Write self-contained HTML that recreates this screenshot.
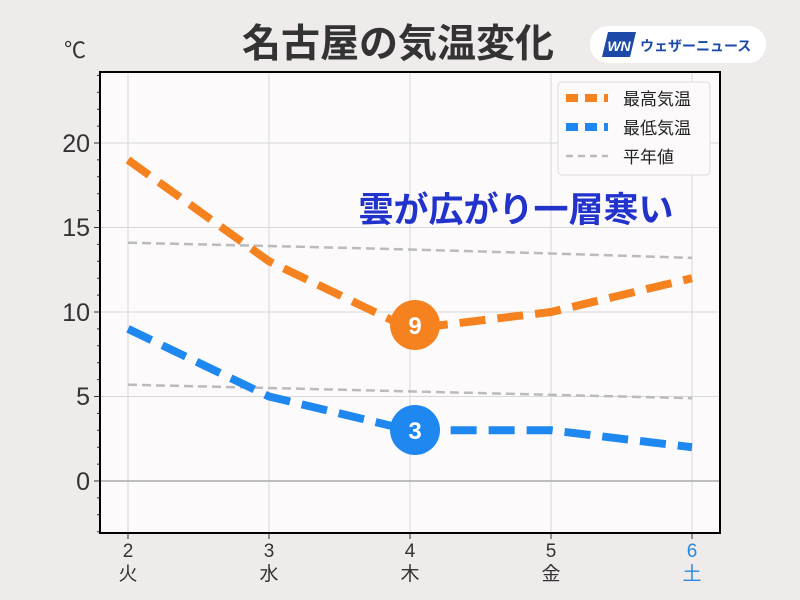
<!DOCTYPE html><html><head><meta charset="utf-8"><style>body{margin:0;background:#eeebea;}svg{display:block}text{font-family:"Liberation Sans","Noto Sans CJK JP",sans-serif}</style></head><body>
<svg width="800" height="600" viewBox="0 0 800 600">
<rect width="800" height="600" fill="#eeebea"/>
<text x="398" y="57" text-anchor="middle" font-size="39" font-weight="bold" fill="#333">名古屋の気温変化</text>
<rect x="590" y="26" width="176" height="37" rx="18" fill="#fff"/>
<polygon points="608,32 636,32 630,57 602,57" fill="#1d4aa8"/>
<text x="619" y="51" text-anchor="middle" font-size="14" font-weight="bold" font-style="italic" fill="#fff">WN</text>
<text x="640" y="51" font-size="14" font-weight="bold" fill="#1d4aa8">ウェザーニュース</text>
<text x="64" y="58" font-size="22" fill="#333">℃</text>
<rect x="100" y="72" width="620" height="461" fill="#fcfafa"/>
<g stroke="#d8d8d8" stroke-width="1">
<line x1="128" y1="72" x2="128" y2="533"/><line x1="269" y1="72" x2="269" y2="533"/><line x1="410" y1="72" x2="410" y2="533"/><line x1="551" y1="72" x2="551" y2="533"/><line x1="692" y1="72" x2="692" y2="533"/>
<line x1="100" y1="143" x2="720" y2="143"/><line x1="100" y1="227.5" x2="720" y2="227.5"/><line x1="100" y1="312" x2="720" y2="312"/><line x1="100" y1="396.5" x2="720" y2="396.5"/>
</g>
<line x1="100" y1="481" x2="720" y2="481" stroke="#aaa" stroke-width="1.5"/>
<g stroke="#333" stroke-width="1">
<line x1="94" y1="143" x2="100" y2="143"/><line x1="94" y1="227.5" x2="100" y2="227.5"/><line x1="94" y1="312" x2="100" y2="312"/><line x1="94" y1="396.5" x2="100" y2="396.5"/><line x1="94" y1="481" x2="100" y2="481"/>
<path d="M97 75.4H100M97 92.3H100M97 109.2H100M97 126.1H100M97 159.9H100M97 176.8H100M97 193.7H100M97 210.6H100M97 244.4H100M97 261.3H100M97 278.2H100M97 295.1H100M97 328.9H100M97 345.8H100M97 362.7H100M97 379.6H100M97 413.4H100M97 430.3H100M97 447.2H100M97 464.1H100M97 497.9H100M97 514.8H100M97 531.7H100"/>
<line x1="128" y1="533" x2="128" y2="539"/><line x1="269" y1="533" x2="269" y2="539"/><line x1="410" y1="533" x2="410" y2="539"/><line x1="551" y1="533" x2="551" y2="539"/><line x1="692" y1="533" x2="692" y2="539"/>
</g>
<rect x="100" y="72" width="620" height="461" fill="none" stroke="#000" stroke-width="2"/>
<g font-size="25" fill="#333" text-anchor="end">
<text x="90" y="152">20</text><text x="90" y="236">15</text><text x="90" y="321">10</text><text x="90" y="405">5</text><text x="90" y="490">0</text>
</g>
<g font-size="19" fill="#333" text-anchor="middle">
<text x="128" y="557">2</text><text x="269" y="557">3</text><text x="410" y="557">4</text><text x="551" y="557">5</text><text x="692" y="557" fill="#2b8ae0">6</text>
<text x="128" y="580">火</text><text x="269" y="580">水</text><text x="410" y="580">木</text><text x="551" y="580">金</text><text x="692" y="580" fill="#2b8ae0">土</text>
</g>
<g fill="none" stroke="#bbb" stroke-width="2.5" stroke-dasharray="9,5">
<polyline points="128,242.7 269,246 410,249.5 551,253.5 692,257.9"/>
<polyline points="128,384.7 269,388 410,391.4 551,394.8 692,398.2"/>
</g>
<polyline points="128,159.9 269,261.3 410,328.9 551,312 692,278.2" fill="none" stroke="#f5821f" stroke-width="8" stroke-dasharray="26,12"/>
<polyline points="128,328.9 269,396.5 410,430.3 551,430.3 692,447.2" fill="none" stroke="#1e88f0" stroke-width="8" stroke-dasharray="26,12"/>
<circle cx="415" cy="325" r="25" fill="#f5821f"/><text x="415" y="334" text-anchor="middle" font-size="24" font-weight="bold" fill="#fff">9</text>
<circle cx="415" cy="430" r="25" fill="#1e88f0"/><text x="415" y="439" text-anchor="middle" font-size="24" font-weight="bold" fill="#fff">3</text>
<text x="516" y="222" text-anchor="middle" font-size="35" font-weight="bold" fill="#2233cc">雲が広がり一層寒い</text>
<rect x="558" y="82" width="152" height="93" rx="4" fill="#fcfafa" stroke="#ddd"/>
<line x1="566" y1="98" x2="608" y2="98" stroke="#f5821f" stroke-width="8" stroke-dasharray="12,7"/>
<line x1="566" y1="127" x2="608" y2="127" stroke="#1e88f0" stroke-width="8" stroke-dasharray="12,7"/>
<line x1="566" y1="156" x2="608" y2="156" stroke="#bbb" stroke-width="2.5" stroke-dasharray="7,5"/>
<g font-size="17" fill="#222"><text x="623" y="105">最高気温</text><text x="623" y="134">最低気温</text><text x="623" y="163">平年値</text></g>
</svg>
</body></html>
